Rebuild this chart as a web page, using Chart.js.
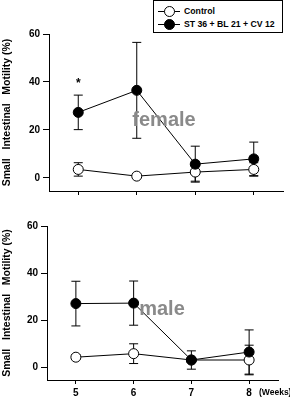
<!DOCTYPE html>
<html>
<head>
<meta charset="utf-8">
<script src="https://cdn.jsdelivr.net/npm/chart.js@4.4.1/dist/chart.umd.min.js"></script>
<style>
  body { margin: 0; background: #fff; }
  #wrap { position: relative; width: 290px; height: 408px; overflow: hidden; font-family: "Liberation Sans", Arial, sans-serif; }
  canvas { position: absolute; left: 0; }
  #female-chart { top: 0; }
  #male-chart { top: 200px; }
  #legend {
    position: absolute; left: 153px; top: 0; width: 130px; height: 33px;
    border: 1px solid #000; box-sizing: border-box; background: #fff;
    font-size: 8.7px; font-weight: bold; color: #000;
  }
  .row { position: absolute; left: 4px; height: 12px; line-height: 12px; white-space: nowrap; }
  .row .line { position: absolute; left: 0; top: 6px; width: 22px; height: 1px; background: #000; }
  .row .dot { position: absolute; left: 6px; top: 1px; width: 9px; height: 9px; border-radius: 50%; border: 1px solid #000; }
  .row span { position: absolute; left: 26px; }
</style>
</head>
<body>
<div id="wrap">
  <canvas id="female-chart" width="290" height="200"></canvas>
  <canvas id="male-chart" width="290" height="208"></canvas>
  <div id="legend">
    <div class="row" style="top:4px"><div class="line"></div><div class="dot" style="background:#fff"></div><span>Control</span></div>
    <div class="row" style="top:17px"><div class="line"></div><div class="dot" style="background:#000"></div><span>ST 36 + BL 21 + CV 12</span></div>
  </div>
</div>
<script>
  const weeks = [5, 6, 7, 8];
  const yTicks = [0, 20, 40, 60];

  // female
  const femaleControl = [3.5, 0.7, 2.4, 3.5];
  const femaleControlErr = [2.8, 0.5, 3.8, 2.8];
  const femaleTreat = [27.3, 36.5, 5.7, 7.9];
  const femaleTreatErr = [7.2, 20, 7.5, 7];

  // male
  const maleControl = [4.2, 5.7, 3, 3];
  const maleControlErr = [1, 4.2, 1, 6.3];
  const maleTreat = [27, 27.2, 3, 6.4];
  const maleTreatErr = [9.5, 9.4, 3.9, 9.4];

  const fontFamily = '"Liberation Sans", Arial, sans-serif';
  const tickFont = { family: fontFamily, size: 10, weight: 'bold' };
  const titleFont = { family: fontFamily, size: 10.5, weight: 'bold' };

  // error bars drawn under the markers
  const errorBars = {
    id: 'errorBars',
    beforeDatasetsDraw(chart) {
      const ctx = chart.ctx;
      const yScale = chart.scales.y;
      ctx.save();
      ctx.strokeStyle = '#000';
      ctx.lineWidth = 1;
      chart.data.datasets.forEach((ds, di) => {
        const meta = chart.getDatasetMeta(di);
        meta.data.forEach((pt, i) => {
          const v = ds.data[i].y;
          const e = ds.err[i];
          const yt = yScale.getPixelForValue(v + e);
          const yb = yScale.getPixelForValue(v - e);
          ctx.beginPath();
          ctx.moveTo(pt.x, yt); ctx.lineTo(pt.x, yb);
          ctx.moveTo(pt.x - 4.5, yt); ctx.lineTo(pt.x + 4.5, yt);
          ctx.moveTo(pt.x - 4.5, yb); ctx.lineTo(pt.x + 4.5, yb);
          ctx.stroke();
        });
      });
      ctx.restore();
    }
  };

  function makeChart(id, control, controlErr, treat, treatErr, opts) {
    const notes = {
      id: 'notes',
      afterDraw(chart) {
        const ctx = chart.ctx;
        ctx.save();
        ctx.fillStyle = '#8a8a8a';
        ctx.font = 'bold 20px ' + fontFamily;
        ctx.textAlign = 'center';
        ctx.textBaseline = 'middle';
        ctx.fillText(opts.label, opts.labelX, opts.labelY);
        ctx.fillStyle = '#000';
        if (opts.star) {
          ctx.font = 'bold 12px ' + fontFamily;
          ctx.fillText('*', chart.scales.x.getPixelForValue(5), opts.starY);
        }
        if (opts.weeks) {
          ctx.font = 'bold 8.5px ' + fontFamily;
          ctx.textAlign = 'left';
          ctx.fillText('(Weeks)', 259, 193);
        }
        ctx.restore();
      }
    };

    return new Chart(document.getElementById(id), {
      type: 'line',
      data: {
        datasets: [
          {
            label: 'Control',
            data: weeks.map((w, i) => ({ x: w, y: control[i] })),
            err: controlErr,
            borderColor: '#000',
            borderWidth: 1,
            pointRadius: 5,
            pointBackgroundColor: '#fff',
            pointBorderColor: '#000',
            pointBorderWidth: 1,
            order: 1
          },
          {
            label: 'ST 36 + BL 21 + CV 12',
            data: weeks.map((w, i) => ({ x: w, y: treat[i] })),
            err: treatErr,
            borderColor: '#000',
            borderWidth: 1,
            pointRadius: 5,
            pointBackgroundColor: '#000',
            pointBorderColor: '#000',
            pointBorderWidth: 1,
            order: 0
          }
        ]
      },
      options: {
        responsive: false,
        animation: false,
        devicePixelRatio: 1,
        clip: false,
        layout: { padding: { left: 0, right: opts.padRight, top: opts.padTop, bottom: 0 } },
        plugins: { legend: { display: false }, tooltip: { enabled: false } },
        scales: {
          x: {
            type: 'linear',
            min: 4.5,
            max: 8.5,
            afterBuildTicks: s => { s.ticks = weeks.map(v => ({ value: v })); },
            afterFit: s => { s.height = opts.xHeight; },
            border: { color: '#000', width: 1 },
            grid: { drawOnChartArea: false, drawTicks: true, tickLength: 4, color: '#000' },
            ticks: {
              display: opts.weeks,
              font: tickFont,
              color: '#000',
              padding: 3,
              maxRotation: 0
            }
          },
          y: {
            min: -5.5,
            max: 60,
            afterBuildTicks: s => { s.ticks = yTicks.map(v => ({ value: v })); },
            afterFit: s => { s.width = opts.yWidth; },
            border: { color: '#000', width: 1 },
            grid: { drawOnChartArea: false, drawTicks: true, tickLength: 6, color: '#000' },
            ticks: { font: tickFont, color: '#000', padding: 3 },
            title: {
              display: true,
              text: 'Small   Intestinal   Motility (%)',
              font: titleFont,
              color: '#000',
              padding: 1
            }
          }
        }
      },
      plugins: [errorBars, notes]
    });
  }

  makeChart('female-chart', femaleControl, femaleControlErr, femaleTreat, femaleTreatErr, {
    label: 'female', labelX: 164, labelY: 120, star: true, starY: 84, weeks: false,
    padRight: 7, padTop: 34, xHeight: 9, yWidth: 49
  });

  makeChart('male-chart', maleControl, maleControlErr, maleTreat, maleTreatErr, {
    label: 'male', labelX: 162, labelY: 109, star: false, weeks: true,
    padRight: 12, padTop: 26, xHeight: 28, yWidth: 47
  });
</script>
</body>
</html>
